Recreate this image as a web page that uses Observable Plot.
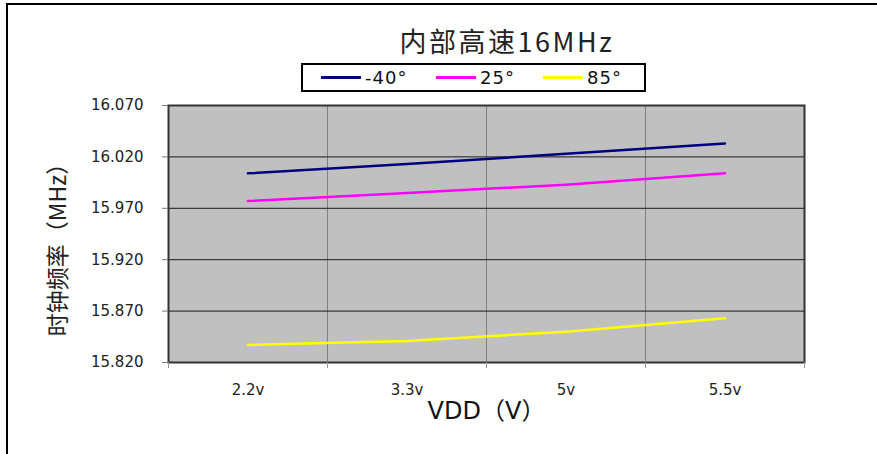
<!DOCTYPE html>
<html>
<head>
<meta charset="utf-8">
<script src="https://cdn.jsdelivr.net/npm/d3@7"></script>
<script src="https://cdn.jsdelivr.net/npm/@observablehq/plot@0.6"></script>
<style>
  html, body { margin: 0; padding: 0; background: #fff; }
  #wrap { position: relative; width: 877px; height: 454px; overflow: hidden; }
  #border { position: absolute; left: 6px; top: 3px; right: -4px; bottom: -4px;
            border-left: 2px solid #000; border-top: 2px solid #000; pointer-events: none; }
  #title { position: absolute; left: 0; width: 1014px; top: 22px; text-align: center;
           font-family: "Noto Sans CJK SC", "DejaVu Sans", sans-serif; font-size: 27px;
           letter-spacing: 2.5px; color: #222; line-height: 38px; }
  #legend { position: absolute; left: 301px; top: 63px; width: 341px; height: 25px;
            border: 2px solid #000; background: #fff;
            font-family: "DejaVu Sans", sans-serif; font-size: 18px; color: #111; }
  .item { display: flex; align-items: center; position: absolute; top: 0; height: 25px; letter-spacing: 1px; }
  .swatch { width: 40px; height: 2.5px; margin-right: 4px; }
</style>
</head>
<body>
<div id="wrap">
  <div id="chart"></div>
  <div id="title"></div>
  <div id="legend"></div>
  <div id="border"></div>
</div>
<script>
// ---- data ----
const categories = ["2.2v", "3.3v", "5v", "5.5v"];
const seriesNames = ["-40°", "25°", "85°"];
const seriesColors = ["#000080", "#ff00ff", "#ffff00"];
const valuesM40 = [16.004, 16.013, 16.023, 16.033];
const values25  = [15.977, 15.985, 15.993, 16.004];
const values85  = [15.837, 15.841, 15.850, 15.863];
const yTicks = [15.820, 15.870, 15.920, 15.970, 16.020, 16.070];
const titleText = "内部高速16MHz";
const xTitle = "VDD（V）";
const yTitle = "时钟频率（MHz）";

const seriesValues = [valuesM40, values25, values85];
const rows = [];
seriesNames.forEach((s, si) => {
  categories.forEach((c, ci) => rows.push({series: s, idx: ci + 0.5, value: seriesValues[si][ci]}));
});
const n = categories.length;
const centers = categories.map((c, i) => i + 0.5);
const bounds = d3.range(0, n + 1);

const chart = Plot.plot({
  width: 877,
  height: 454,
  marginLeft: 168,
  marginRight: 73,
  marginTop: 105,
  marginBottom: 92,
  style: {fontFamily: "DejaVu Sans, sans-serif", fontSize: "15px", color: "#222", background: "transparent"},
  x: {domain: [0, n], axis: null},
  y: {domain: [yTicks[0], yTicks[yTicks.length - 1]], axis: null},
  color: {domain: seriesNames, range: seriesColors},
  marks: [
    Plot.frame({fill: "#c0c0c0"}),
    Plot.ruleX(bounds.slice(1, -1), {stroke: "#808080", strokeWidth: 1}),
    Plot.ruleY(yTicks, {stroke: "#1a1a1a", strokeWidth: 1}),
    Plot.line(rows, {x: "idx", y: "value", z: "series", stroke: "series", strokeWidth: 2.5}),
    Plot.frame({stroke: "#333", strokeWidth: 2}),
    Plot.axisY(yTicks, {tickFormat: d3.format(".3f"), tickSize: 6, tickPadding: 19, stroke: "#777",
                        fontSize: 15, letterSpacing: 0.5, label: null}),
    Plot.axisX(bounds, {tickSize: 6, tickFormat: () => "", stroke: "#999", label: null}),
    Plot.axisX(centers, {tickSize: 0, tickPadding: 22, tickFormat: (d) => categories[Math.floor(d)],
                         fontSize: 15, label: null}),
    Plot.text([xTitle], {frameAnchor: "bottom", dy: 56, fontSize: 24, fill: "#111", fontFamily: "DejaVu Sans, Noto Sans CJK SC"}),
    Plot.text([yTitle], {frameAnchor: "left", textAnchor: "middle", dx: -110, dy: 10, rotate: -90, fontSize: 23, fill: "#222", fontFamily: "Noto Sans CJK SC, DejaVu Sans"})
  ]
});
document.getElementById("chart").appendChild(chart);

document.getElementById("title").textContent = titleText;

const legend = document.getElementById("legend");
const itemLefts = [18, 133, 240];
seriesNames.forEach((s, i) => {
  const item = document.createElement("div");
  item.className = "item";
  item.style.left = itemLefts[i] + "px";
  const sw = document.createElement("span");
  sw.className = "swatch";
  sw.style.background = seriesColors[i];
  const tx = document.createElement("span");
  tx.textContent = s;
  item.appendChild(sw);
  item.appendChild(tx);
  legend.appendChild(item);
});
</script>
</body>
</html>
